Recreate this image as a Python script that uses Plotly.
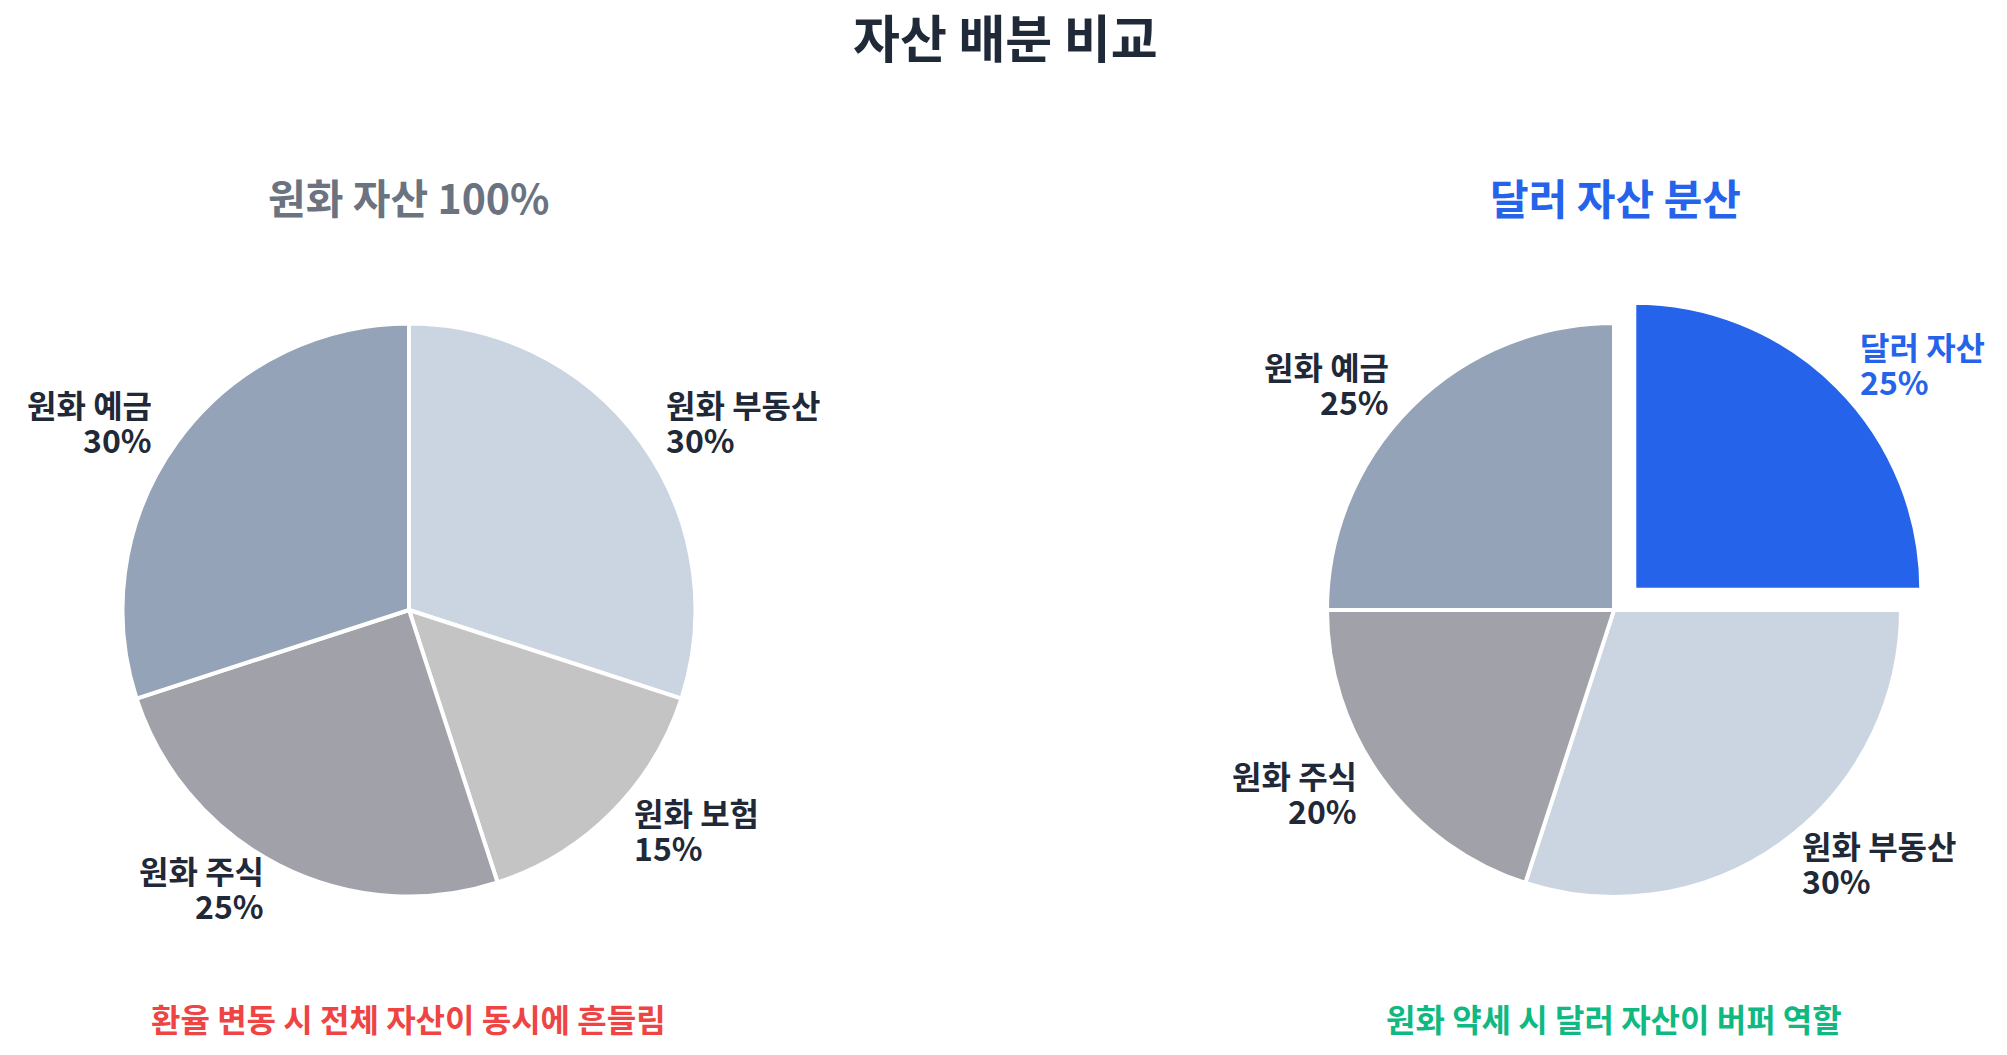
import math
import plotly.graph_objects as go

# ---------------- data (slices listed clockwise from 12 o'clock) ----------------
left_labels = ["원화 부동산", "원화 보험", "원화 주식", "원화 예금"]
left_values = [30, 15, 25, 30]
left_colors = ["#cbd5e1", "#c4c4c4", "#a1a1aa", "#94a3b8"]

right_labels = ["달러 자산", "원화 부동산", "원화 주식", "원화 예금"]
right_values = [25, 30, 20, 25]
right_colors = ["#2563eb", "#cbd5e1", "#a1a1aa", "#94a3b8"]
right_pull = [0.1, 0, 0, 0]

main_title = "자산 배분 비교"
left_title = "원화 자산 100%"
right_title = "달러 자산 분산"
left_note = "환율 변동 시 전체 자산이 동시에 흔들림"
right_note = "원화 약세 시 달러 자산이 버퍼 역할"

# ---------------- layout ----------------
W, H = 2007, 1055
FONT = "Noto Sans CJK KR"
DARK = "#1f2937"
BLUE = "#2563eb"
LABEL_SIZE = 32
LINE_GAP = 17.5
LABEL_DY = -3

# pie geometry (pixels): center x, center y, radius
LEFT_PIE = (409, 610, 286.5)
RIGHT_PIE = (1614, 610, 287)


def px_x(x):
    return x / W


def px_y(y):
    return 1 - y / H


def domain_for(cx, cy, r, maxpull):
    half = r * (1 + maxpull)
    return dict(x=[px_x(cx - half), px_x(cx + half)],
                y=[px_y(cy + half), px_y(cy - half)])


fig = go.Figure()

fig.add_trace(go.Pie(
    labels=left_labels, values=left_values, sort=False,
    direction="clockwise", rotation=0,
    marker=dict(colors=left_colors, line=dict(color="white", width=4)),
    textinfo="none", hoverinfo="label+percent",
    domain=domain_for(*LEFT_PIE, 0),
))
fig.add_trace(go.Pie(
    labels=right_labels, values=right_values, sort=False,
    direction="clockwise", rotation=0, pull=right_pull,
    marker=dict(colors=right_colors, line=dict(color="white", width=4)),
    textinfo="none", hoverinfo="label+percent",
    domain=domain_for(*RIGHT_PIE, max(right_pull)),
))

annotations = []


def add_text(text, x, y, size, color, xanchor="center", align="center", height=None):
    a = dict(
        text=text, x=px_x(x), y=px_y(y), xref="paper", yref="paper",
        xanchor=xanchor, yanchor="middle", align=align, showarrow=False,
        font=dict(family=FONT, size=size, color=color),
    )
    if height is not None:
        a["height"] = height
        a["valign"] = "middle"
    annotations.append(a)


def add_pie_labels(labels, values, pie, pulls, colors_txt):
    cx, cy, r = pie
    total = float(sum(values))
    cum = 0.0
    for i, (lab, v) in enumerate(zip(labels, values)):
        mid = (cum + v / 2.0) / total * 2 * math.pi
        cum += v
        p = pulls[i] if pulls else 0
        d = r * (1.1 + p)
        x = cx + d * math.sin(mid)
        y = cy - d * math.cos(mid) + LABEL_DY
        xa = "right" if x < cx else "left"
        pct = f"{round(v / total * 100)}%"
        col = colors_txt[i]
        add_text(f"<b>{lab}</b>", x, y - LINE_GAP, LABEL_SIZE, col, xa, xa, height=34)
        add_text(f"<b>{pct}</b>", x, y + LINE_GAP, LABEL_SIZE, col, xa, xa, height=34)


add_pie_labels(left_labels, left_values, LEFT_PIE, None, [DARK] * 4)
add_pie_labels(right_labels, right_values, RIGHT_PIE, right_pull,
               [BLUE, DARK, DARK, DARK])

add_text(f"<b>{main_title}</b>", 1005, 36, 51, DARK, height=60)
add_text(f"<b>{left_title}</b>", 409, 196, 41, "#6b7280")
add_text(f"<b>{right_title}</b>", 1615, 196, 42, BLUE)
add_text(f"<b>{left_note}</b>", 408, 1018, 32, "#ef4444")
add_text(f"<b>{right_note}</b>", 1614, 1018, 32, "#10b981")

fig.update_layout(
    width=W, height=H, autosize=False,
    margin=dict(l=0, r=0, t=0, b=0),
    paper_bgcolor="white", plot_bgcolor="white",
    showlegend=False,
    font=dict(family=FONT),
    annotations=annotations,
)

fig.write_html("out.html", config={"displayModeBar": False},
               post_script="document.body.style.margin='0';document.body.style.overflow='hidden';")
